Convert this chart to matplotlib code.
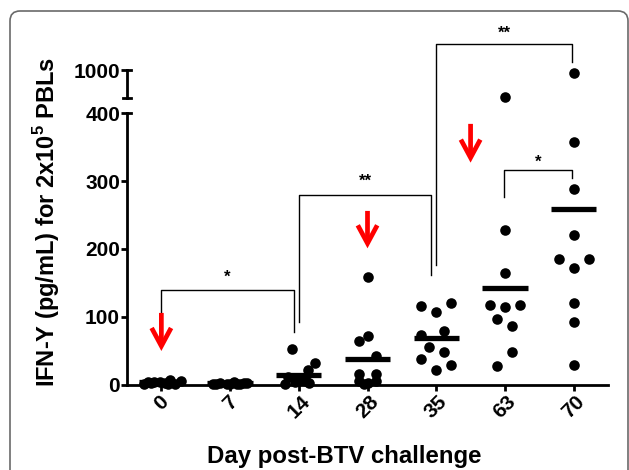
import numpy as np
import matplotlib
matplotlib.use("Agg")
import matplotlib.pyplot as plt
from matplotlib.patches import FancyArrowPatch, FancyBboxPatch
from matplotlib.transforms import IdentityTransform

plt.rcParams["font.family"] = ["Liberation Sans", "DejaVu Sans"]
plt.rcParams["font.weight"] = "bold"
plt.rcParams["mathtext.fontset"] = "custom"
plt.rcParams["mathtext.rm"] = "Liberation Sans:bold"
plt.rcParams["mathtext.bf"] = "Liberation Sans:bold"

# days and IFN-Y values per animal
days = ["0", "7", "14", "28", "35", "63", "70"]
day0 = [2, 3, 5, 4, 8, 3, 2, 6, 4, 1]
day7 = [2, 3, 1, 4, 2, 3, 1, 2, 3, 2]
day14 = [53, 32, 22, 12, 8, 5, 3, 2, 10, 6]
day28 = [159, 72, 65, 42, 16, 16, 6, 6, 3, 2]
day35 = [116, 108, 120, 73, 79, 56, 48, 38, 30, 22]
day63 = [420, 228, 164, 118, 115, 118, 97, 87, 49, 28]
day70 = [930, 358, 288, 221, 185, 185, 172, 120, 93, 30]
groups = [day0, day7, day14, day28, day35, day63, day70]

# horizontal scatter offsets (category units)
offsets = [
    [-0.25, -0.15, -0.1, -0.02, 0.13, 0.05, 0.2, 0.28, -0.2, 0.1],
    [-0.25, -0.15, -0.05, 0.05, 0.15, 0.25, -0.2, 0.1, 0.2, 0.0],
    [-0.1, 0.23, 0.13, -0.15, 0.05, -0.05, 0.15, -0.2, 0.0, 0.1],
    [0.0, 0.0, -0.12, 0.12, -0.12, 0.12, -0.12, 0.12, 0.0, -0.05],
    [-0.22, 0.0, 0.22, -0.22, 0.11, -0.11, 0.11, -0.22, 0.22, 0.0],
    [0.0, 0.0, 0.0, -0.22, 0.0, 0.22, -0.11, 0.11, 0.11, -0.11],
    [0.0, 0.0, 0.0, 0.0, -0.22, 0.22, 0.0, 0.0, 0.0, 0.0],
]

# significance brackets: x_left, x_right, top, left leg end, right leg end, label
brackets = [
    (0.0, 1.93, 140, 106, 78, "*"),
    (2.0, 3.93, 279, 92, 162, "**"),
    (4.0, 5.98, 501, 176, 475, "**"),
    (4.98, 5.98, 316, 276, 304, "*"),
]
star_y = [159, 299, 517, 327]

# red arrows: x, tail value, tip value
arrows = [(0.0, 106, 50), (3.0, 256, 201), (4.5, 384, 327)]

fig = plt.figure(figsize=(6.29, 4.70), dpi=100, facecolor="white")
ax = fig.add_axes([127 / 629, 85 / 470, 481 / 629, 272 / 470])
axt = fig.add_axes([127 / 629, 372 / 470, 481 / 629, 28 / 470], sharex=ax)
axt.patch.set_visible(False)
ax.patch.set_visible(False)

lw_axis = 2.0
for a in (ax, axt):
    for s in ("top", "right"):
        a.spines[s].set_visible(False)
    a.spines["left"].set_linewidth(lw_axis)
    a.tick_params(axis="y", width=lw_axis, length=4, pad=1, labelsize=15)
axt.spines["bottom"].set_visible(False)
ax.spines["bottom"].set_linewidth(lw_axis)

ax.set_xlim(-0.5, 6.5)
ax.set_ylim(0, 400)
axt.set_ylim(400, 1000)
ax.set_yticks([0, 100, 200, 300, 400])
axt.set_yticks([1000])
axt.tick_params(axis="x", bottom=False, labelbottom=False)

ax.set_xticks(range(len(days)))
ax.set_xticklabels(days, rotation=45, ha="center", fontsize=15)
ax.tick_params(axis="x", width=lw_axis, length=4, pad=1)

# break caps
capw = 4 / 481
ax.plot([0, capw], [400, 400], color="black", lw=lw_axis, transform=ax.get_yaxis_transform(), clip_on=False)
axt.plot([-capw, capw], [400, 400], color="black", lw=lw_axis, transform=axt.get_yaxis_transform(), clip_on=False)
axt.plot([0, capw], [1000, 1000], color="black", lw=lw_axis, transform=axt.get_yaxis_transform(), clip_on=False)

for i, (vals, offs) in enumerate(zip(groups, offsets)):
    vals = np.array(vals, dtype=float)
    xs = i + np.array(offs)
    low = vals <= 400
    ax.scatter(xs[low], vals[low], s=58, color="black", zorder=3, clip_on=False, linewidths=0)
    if (~low).any():
        axt.scatter(xs[~low], vals[~low], s=58, color="black", zorder=3, clip_on=False, linewidths=0)
    ax.hlines(vals.mean(), i - 0.33, i + 0.33, color="black", lw=3.8, zorder=4, clip_on=False)

for (x0, x1, top, yl, yr, lab), sy in zip(brackets, star_y):
    ax.plot([x0, x0, x1, x1], [yl, top, top, yr], color="black", lw=1.0, clip_on=False, zorder=2)
    ax.text((x0 + x1) / 2, sy, lab, ha="center", va="center", fontsize=12, fontweight="bold")

for x, y0, y1 in arrows:
    arr = FancyArrowPatch((x, y0), (x, y1), arrowstyle="->,head_length=13,head_width=7",
                          mutation_scale=1, color="red", lw=3.4, shrinkA=0, shrinkB=0,
                          joinstyle="miter", capstyle="butt", clip_on=False, zorder=5)
    ax.add_patch(arr)

fig.text(47 / 629, 1 - 222 / 470, r"IFN-Y (pg/mL) for 2x10$^{\mathbf{5}}$ PBLs", rotation=90,
         ha="center", va="center", fontsize=17, fontweight="bold")
fig.text(344 / 629, 1 - 457 / 470, "Day post-BTV challenge", ha="center", va="center",
         fontsize=17.3, fontweight="bold")

frame = FancyBboxPatch((10, -30), 618, 489, boxstyle="round,pad=0,rounding_size=10",
                       transform=IdentityTransform(), facecolor="none", edgecolor="#6a6a6a", lw=1.2)
fig.patches.append(frame)

fig.savefig("out.png", dpi=100, facecolor="white")
